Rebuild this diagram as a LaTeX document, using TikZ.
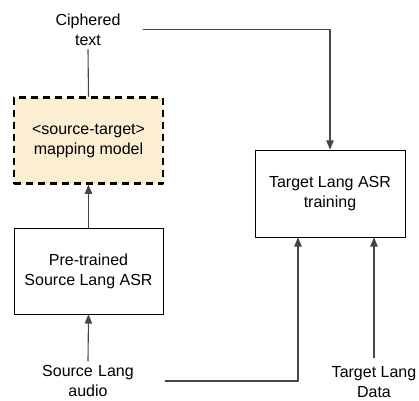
\documentclass[tikz,border=0pt]{standalone}
\usepackage{fontspec}
\setmainfont{Liberation Sans}
\usepackage{tikz}
\usetikzlibrary{arrows}
\definecolor{mapfill}{RGB}{252,238,208}
\definecolor{wire}{RGB}{70,70,70}

\begin{document}
\begin{tikzpicture}[line cap=round,line join=round,>=triangle 45,x=1bp,y=-1bp,
  font=\fontsize{16bp}{20bp}\selectfont,
  blk/.style={draw=black,line width=0.9bp,minimum width=149bp,minimum height=86bp,align=center,inner sep=0pt},
  mapblk/.style={blk,fill=mapfill,line width=2.4bp,dash pattern=on 7bp off 5bp,line cap=butt},
  lbl/.style={align=center,inner sep=4bp},
  wire/.style={draw=wire,line width=1.1bp}]
\useasboundingbox (0,0) rectangle (419,401);
\node[lbl,text width=102bp] (cipher) at (88,29.5) {Ciphered\\text};
\node[mapblk] (mapping) at (88.5,140.5) {<source-target>\\mapping model};
\node[blk] (pretrained) at (88.5,271) {Pre-trained\\Source Lang ASR};
\node[lbl,text width=146bp] (srcaudio) at (88,381) {Source Lang\\audio};
\node[blk,minimum width=150bp,minimum height=87bp] (target) at (330,193.5) {Target Lang ASR\\training};
\node[lbl,inner sep=1bp] (tgtdata) at (374,382.5) {Target Lang\\Data};
\coordinate (audioin) at ([xshift=-32bp]target.south);
\draw[wire] (cipher.south) -- (mapping.north);
\draw[wire,->] (pretrained.north) -- (mapping.south);
\draw[wire,->] (srcaudio.north) -- (pretrained.south);
\draw[wire,->] (cipher.east) -| (target.north);
\draw[wire,->] (srcaudio.east) -| (audioin);
\draw[wire,->] ([yshift=8bp]tgtdata.north) -- (tgtdata.north |- target.south);
\end{tikzpicture}
\end{document}
